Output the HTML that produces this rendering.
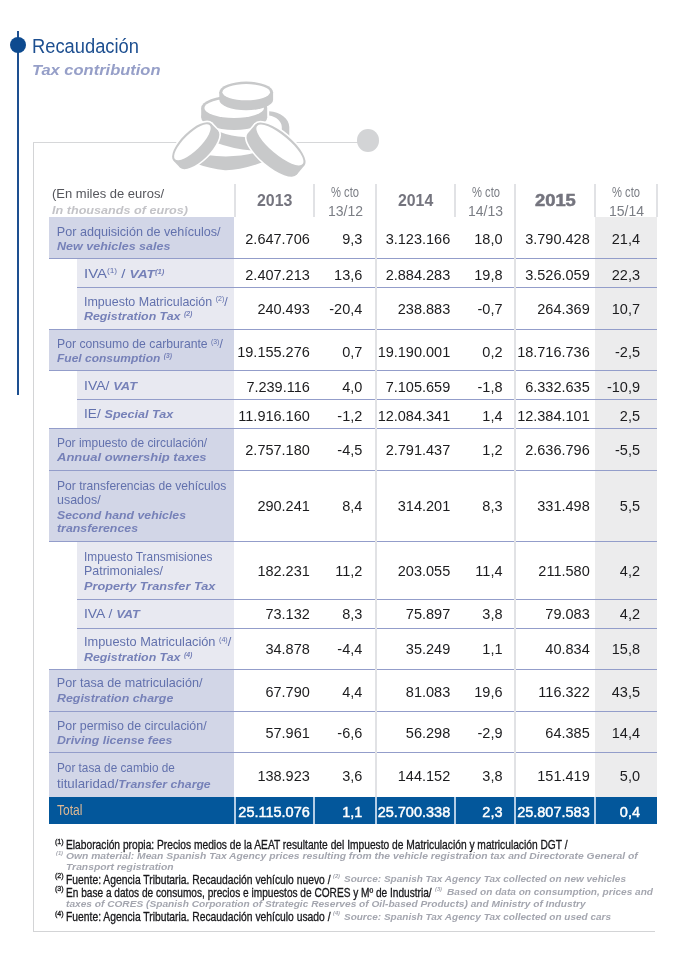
<!DOCTYPE html><html lang="es"><head><meta charset="utf-8"><title>Recaudación</title><style>
html,body{margin:0;padding:0;background:#fff;}
body{width:679px;height:956px;position:relative;overflow:hidden;font-family:"Liberation Sans",sans-serif;}
.r{position:absolute;}
.t{position:absolute;white-space:nowrap;line-height:1;transform-origin:0 50%;}
.t.ra{transform-origin:100% 50%;}
sup{font-size:56%;vertical-align:baseline;position:relative;top:-0.6em;line-height:0;}
.fs sup,.fse sup{font-size:58%;top:-0.78em;}
em{font-style:italic;font-weight:bold;}
.lab{font-size:12.6px;color:#6271ad;}
.lab.e, .lab em{font-style:italic;font-weight:bold;color:#7681b8;font-size:11.6px;}
.labt{font-size:14px;color:#deb893;}
.num{font-size:14.5px;color:#1c1c1e;}
.num.tot{color:#fff;font-size:14.5px;-webkit-text-stroke:0.45px #fff;}
.h1{font-size:12.8px;color:#55565c;}
.h2{font-size:11.6px;color:#c3c3c7;font-style:italic;font-weight:bold;}
.yr{font-size:16px;font-weight:bold;color:#74747e;}
.yr.xb{-webkit-text-stroke:0.5px #74747e;}
.pc{font-size:14px;color:#7b7e85;}
.pd{font-size:15px;}
.title{font-size:20px;color:#1d4f90;}
.subtitle{font-size:14.5px;font-style:italic;font-weight:bold;color:#969fc8;}
.fn,.fs{font-size:12.2px;color:#17171a;-webkit-text-stroke:0.3px #17171a;}
.fe,.fse{font-size:9.8px;color:#a4a6af;font-style:italic;font-weight:bold;}
</style></head><body>
<div class="r" style="left:33px;top:141.8px;width:1px;height:790.3px;background:#d3d4d6"></div>
<div class="r" style="left:33px;top:141.8px;width:144.2px;height:1px;background:#d6d7d9"></div><div class="r" style="left:295px;top:141.8px;width:63px;height:1px;background:#d6d7d9"></div>
<div class="r" style="left:33px;top:931.1px;width:621.5px;height:1px;background:#d3d4d6"></div>
<div class="r" style="left:356.9px;top:129.3px;width:22px;height:22.4px;border-radius:50%;background:#d3d4d6"></div>
<div class="r" style="left:17.4px;top:31.2px;width:2px;height:364.3px;background:#1d4f90"></div>
<div class="r" style="left:10px;top:36.5px;width:16px;height:16px;border-radius:50%;background:#0d4a8f"></div>
<svg class="r" style="left:160px;top:70px" width="160" height="120" viewBox="160 70 160 120">
<path d="M269.2,111.2 C 280,112 289.3,118.5 289.3,127 L289.3,137 L281.8,137 L281.8,127 C281.8,121.5 276,116.6 269.2,115.6 Z" fill="#c8c9ca"/>
<path d="M 219.5,131.8 Q 233,137.5 247,136.9 L 252,150.4 Q 233,149 215.5,142.4 Z" fill="#c8c9ca"/>
<path d="M 207,155.0 Q 232,158.8 256,152.6 L 262.5,162.3 Q 240,170.5 225,170.2 Q 210,169 196,163.6 Z" fill="#c8c9ca"/>
<g fill="#c8c9ca"><ellipse cx="234.20" cy="108.10" rx="33.00" ry="12.50"/><ellipse cx="234.20" cy="117.40" rx="33.00" ry="12.50"/><rect x="201.20" y="108.10" width="66.00" height="9.30"/></g><ellipse cx="234.20" cy="108.10" rx="29.80" ry="9.80" fill="#fff"/>
<g fill="#c8c9ca"><ellipse cx="246.20" cy="92.20" rx="26.90" ry="10.60"/><ellipse cx="246.20" cy="99.70" rx="26.90" ry="10.60"/><rect x="219.30" y="92.20" width="53.80" height="7.50"/></g><ellipse cx="246.20" cy="92.20" rx="23.80" ry="8.10" fill="#fff"/>
<g><g fill="#fff" stroke="#fff" stroke-width="3.2" stroke-linejoin="round"><ellipse cx="192.40" cy="142.30" rx="26.50" ry="10.60" transform="rotate(-44.50 192.40 142.30)"/><ellipse cx="199.06" cy="149.08" rx="26.50" ry="10.60" transform="rotate(-44.50 199.06 149.08)"/><polygon points="211.30,123.73 217.96,130.50 180.16,167.65 173.50,160.87"/></g><g fill="#c8c9ca"><ellipse cx="192.40" cy="142.30" rx="26.50" ry="10.60" transform="rotate(-44.50 192.40 142.30)"/><ellipse cx="199.06" cy="149.08" rx="26.50" ry="10.60" transform="rotate(-44.50 199.06 149.08)"/><polygon points="211.30,123.73 217.96,130.50 180.16,167.65 173.50,160.87"/></g><ellipse cx="192.40" cy="142.30" rx="24.30" ry="8.40" transform="rotate(-44.50 192.40 142.30)" fill="#fff"/></g>
<g><g fill="#fff" stroke="#fff" stroke-width="3.2" stroke-linejoin="round"><ellipse cx="279.90" cy="145.00" rx="32.00" ry="11.80" transform="rotate(40.00 279.90 145.00)"/><ellipse cx="272.19" cy="154.19" rx="32.00" ry="11.80" transform="rotate(40.00 272.19 154.19)"/><polygon points="304.41,165.57 296.70,174.76 247.67,133.62 255.39,124.43"/></g><g fill="#c8c9ca"><ellipse cx="279.90" cy="145.00" rx="32.00" ry="11.80" transform="rotate(40.00 279.90 145.00)"/><ellipse cx="272.19" cy="154.19" rx="32.00" ry="11.80" transform="rotate(40.00 272.19 154.19)"/><polygon points="304.41,165.57 296.70,174.76 247.67,133.62 255.39,124.43"/></g><ellipse cx="279.90" cy="145.00" rx="29.70" ry="9.50" transform="rotate(40.00 279.90 145.00)" fill="#fff"/></g>
</svg>
<div class="r" style="left:595.00px;top:217.00px;width:61.60px;height:579.60px;background:#ececed;"></div>
<div class="r" style="left:49.20px;top:217.00px;width:185.30px;height:41.50px;background:#d2d6e7;"></div>
<div class="r" style="left:76.80px;top:258.50px;width:157.70px;height:28.80px;background:#e8e9f1;"></div>
<div class="r" style="left:76.80px;top:287.30px;width:157.70px;height:42.40px;background:#e8e9f1;"></div>
<div class="r" style="left:49.20px;top:329.70px;width:185.30px;height:41.20px;background:#d2d6e7;"></div>
<div class="r" style="left:76.80px;top:370.90px;width:157.70px;height:28.90px;background:#e8e9f1;"></div>
<div class="r" style="left:76.80px;top:399.80px;width:157.70px;height:28.80px;background:#e8e9f1;"></div>
<div class="r" style="left:49.20px;top:428.60px;width:185.30px;height:42.20px;background:#d2d6e7;"></div>
<div class="r" style="left:49.20px;top:470.80px;width:185.30px;height:71.00px;background:#d2d6e7;"></div>
<div class="r" style="left:76.80px;top:541.80px;width:157.70px;height:58.10px;background:#e8e9f1;"></div>
<div class="r" style="left:76.80px;top:599.90px;width:157.70px;height:28.60px;background:#e8e9f1;"></div>
<div class="r" style="left:76.80px;top:628.50px;width:157.70px;height:41.00px;background:#e8e9f1;"></div>
<div class="r" style="left:49.20px;top:669.50px;width:185.30px;height:42.00px;background:#d2d6e7;"></div>
<div class="r" style="left:49.20px;top:711.50px;width:185.30px;height:41.10px;background:#d2d6e7;"></div>
<div class="r" style="left:49.20px;top:752.60px;width:185.30px;height:44.00px;background:#d2d6e7;"></div>
<div class="r" style="left:49.20px;top:796.60px;width:607.40px;height:27.90px;background:#03579b;"></div>
<div class="r" style="left:49.20px;top:258.00px;width:607.40px;height:1.35px;background:#939dca;"></div>
<div class="r" style="left:76.80px;top:287.00px;width:579.80px;height:1.35px;background:#939dca;"></div>
<div class="r" style="left:49.20px;top:329.00px;width:607.40px;height:1.35px;background:#939dca;"></div>
<div class="r" style="left:49.20px;top:370.00px;width:607.40px;height:1.35px;background:#939dca;"></div>
<div class="r" style="left:76.80px;top:399.00px;width:579.80px;height:1.35px;background:#939dca;"></div>
<div class="r" style="left:49.20px;top:428.00px;width:607.40px;height:1.35px;background:#939dca;"></div>
<div class="r" style="left:49.20px;top:470.00px;width:607.40px;height:1.35px;background:#939dca;"></div>
<div class="r" style="left:49.20px;top:541.00px;width:607.40px;height:1.35px;background:#939dca;"></div>
<div class="r" style="left:76.80px;top:599.00px;width:579.80px;height:1.35px;background:#939dca;"></div>
<div class="r" style="left:76.80px;top:628.00px;width:579.80px;height:1.35px;background:#939dca;"></div>
<div class="r" style="left:49.20px;top:669.00px;width:607.40px;height:1.35px;background:#939dca;"></div>
<div class="r" style="left:49.20px;top:711.00px;width:607.40px;height:1.35px;background:#939dca;"></div>
<div class="r" style="left:49.20px;top:752.00px;width:607.40px;height:1.35px;background:#939dca;"></div>
<div class="r" style="left:234.00px;top:184.00px;width:2.00px;height:33.00px;background:#e1e2e5;"></div>
<div class="r" style="left:313.00px;top:184.00px;width:2.00px;height:33.00px;background:#e1e2e5;"></div>
<div class="r" style="left:374.70px;top:184.00px;width:2.00px;height:612.60px;background:#e1e2e5;"></div>
<div class="r" style="left:453.70px;top:184.00px;width:2.00px;height:33.00px;background:#e1e2e5;"></div>
<div class="r" style="left:514.20px;top:184.00px;width:2.00px;height:612.60px;background:#e1e2e5;"></div>
<div class="r" style="left:594.00px;top:184.00px;width:2.00px;height:33.00px;background:#e1e2e5;"></div>
<div class="r" style="left:655.70px;top:184.00px;width:2.00px;height:33.00px;background:#e1e2e5;"></div>
<div class="r" style="left:233.90px;top:796.60px;width:2.20px;height:27.90px;background:#b3cde6;"></div>
<div class="r" style="left:312.90px;top:796.60px;width:2.20px;height:27.90px;background:#b3cde6;"></div>
<div class="r" style="left:374.60px;top:796.60px;width:2.20px;height:27.90px;background:#b3cde6;"></div>
<div class="r" style="left:453.60px;top:796.60px;width:2.20px;height:27.90px;background:#b3cde6;"></div>
<div class="r" style="left:514.10px;top:796.60px;width:2.20px;height:27.90px;background:#b3cde6;"></div>
<div class="r" style="left:593.90px;top:796.60px;width:2.20px;height:27.90px;background:#b3cde6;"></div>
<div class="t lab n" style="left:56.80px;top:231.50px;transform:translateY(-50%);">Por adquisición de vehículos/</div>
<div class="t lab e" style="left:56.80px;top:245.50px;transform:translateY(-50%) scaleX(1.0794);">New vehicles sales</div>
<div class="t num ra" style="right:369.20px;top:239.30px;transform:translateY(-50%);">2.647.706</div>
<div class="t num ra" style="right:316.70px;top:239.30px;transform:translateY(-50%);">9,3</div>
<div class="t num ra" style="right:228.80px;top:239.30px;transform:translateY(-50%);">3.123.166</div>
<div class="t num ra" style="right:176.50px;top:239.30px;transform:translateY(-50%);">18,0</div>
<div class="t num ra" style="right:89.30px;top:239.30px;transform:translateY(-50%);">3.790.428</div>
<div class="t num ra" style="right:39.00px;top:239.30px;transform:translateY(-50%);">21,4</div>
<div class="t lab n" style="left:83.90px;top:273.50px;transform:translateY(-50%) scaleX(1.1840);">IVA<sup>(1)</sup> / <em>VAT<sup>(1)</sup></em></div>
<div class="t num ra" style="right:369.20px;top:274.50px;transform:translateY(-50%);">2.407.213</div>
<div class="t num ra" style="right:316.70px;top:274.50px;transform:translateY(-50%);">13,6</div>
<div class="t num ra" style="right:228.80px;top:274.50px;transform:translateY(-50%);">2.884.283</div>
<div class="t num ra" style="right:176.50px;top:274.50px;transform:translateY(-50%);">19,8</div>
<div class="t num ra" style="right:89.30px;top:274.50px;transform:translateY(-50%);">3.526.059</div>
<div class="t num ra" style="right:39.00px;top:274.50px;transform:translateY(-50%);">22,3</div>
<div class="t lab n" style="left:83.90px;top:301.50px;transform:translateY(-50%) scaleX(0.9902);">Impuesto Matriculación <sup>(2)</sup>/</div>
<div class="t lab e" style="left:83.90px;top:316.00px;transform:translateY(-50%) scaleX(1.0672);">Registration Tax <sup>(2)</sup></div>
<div class="t num ra" style="right:369.20px;top:309.30px;transform:translateY(-50%);">240.493</div>
<div class="t num ra" style="right:316.70px;top:309.30px;transform:translateY(-50%);">-20,4</div>
<div class="t num ra" style="right:228.80px;top:309.30px;transform:translateY(-50%);">238.883</div>
<div class="t num ra" style="right:176.50px;top:309.30px;transform:translateY(-50%);">-0,7</div>
<div class="t num ra" style="right:89.30px;top:309.30px;transform:translateY(-50%);">264.369</div>
<div class="t num ra" style="right:39.00px;top:309.30px;transform:translateY(-50%);">10,7</div>
<div class="t lab n" style="left:56.80px;top:344.00px;transform:translateY(-50%) scaleX(0.9693);">Por consumo de carburante <sup>(3)</sup>/</div>
<div class="t lab e" style="left:56.80px;top:358.00px;transform:translateY(-50%) scaleX(1.0351);">Fuel consumption <sup>(3)</sup></div>
<div class="t num ra" style="right:369.20px;top:351.50px;transform:translateY(-50%);">19.155.276</div>
<div class="t num ra" style="right:316.70px;top:351.50px;transform:translateY(-50%);">0,7</div>
<div class="t num ra" style="right:228.80px;top:351.50px;transform:translateY(-50%);">19.190.001</div>
<div class="t num ra" style="right:176.50px;top:351.50px;transform:translateY(-50%);">0,2</div>
<div class="t num ra" style="right:89.30px;top:351.50px;transform:translateY(-50%);">18.716.736</div>
<div class="t num ra" style="right:39.00px;top:351.50px;transform:translateY(-50%);">-2,5</div>
<div class="t lab n" style="left:83.90px;top:386.00px;transform:translateY(-50%) scaleX(1.1078);">IVA/ <em>VAT</em></div>
<div class="t num ra" style="right:369.20px;top:386.80px;transform:translateY(-50%);">7.239.116</div>
<div class="t num ra" style="right:316.70px;top:386.80px;transform:translateY(-50%);">4,0</div>
<div class="t num ra" style="right:228.80px;top:386.80px;transform:translateY(-50%);">7.105.659</div>
<div class="t num ra" style="right:176.50px;top:386.80px;transform:translateY(-50%);">-1,8</div>
<div class="t num ra" style="right:89.30px;top:386.80px;transform:translateY(-50%);">6.332.635</div>
<div class="t num ra" style="right:39.00px;top:386.80px;transform:translateY(-50%);">-10,9</div>
<div class="t lab n" style="left:83.90px;top:414.00px;transform:translateY(-50%) scaleX(1.0841);">IE/ <em>Special Tax</em></div>
<div class="t num ra" style="right:369.20px;top:415.50px;transform:translateY(-50%);">11.916.160</div>
<div class="t num ra" style="right:316.70px;top:415.50px;transform:translateY(-50%);">-1,2</div>
<div class="t num ra" style="right:228.80px;top:415.50px;transform:translateY(-50%);">12.084.341</div>
<div class="t num ra" style="right:176.50px;top:415.50px;transform:translateY(-50%);">1,4</div>
<div class="t num ra" style="right:89.30px;top:415.50px;transform:translateY(-50%);">12.384.101</div>
<div class="t num ra" style="right:39.00px;top:415.50px;transform:translateY(-50%);">2,5</div>
<div class="t lab n" style="left:56.80px;top:442.80px;transform:translateY(-50%) scaleX(0.9494);">Por impuesto de circulación/</div>
<div class="t lab e" style="left:56.80px;top:456.70px;transform:translateY(-50%) scaleX(1.1218);">Annual ownership taxes</div>
<div class="t num ra" style="right:369.20px;top:450.40px;transform:translateY(-50%);">2.757.180</div>
<div class="t num ra" style="right:316.70px;top:450.40px;transform:translateY(-50%);">-4,5</div>
<div class="t num ra" style="right:228.80px;top:450.40px;transform:translateY(-50%);">2.791.437</div>
<div class="t num ra" style="right:176.50px;top:450.40px;transform:translateY(-50%);">1,2</div>
<div class="t num ra" style="right:89.30px;top:450.40px;transform:translateY(-50%);">2.636.796</div>
<div class="t num ra" style="right:39.00px;top:450.40px;transform:translateY(-50%);">-5,5</div>
<div class="t lab n" style="left:56.80px;top:485.60px;transform:translateY(-50%) scaleX(0.9597);">Por transferencias de vehículos</div>
<div class="t lab n" style="left:56.80px;top:500.30px;transform:translateY(-50%) scaleX(0.9885);">usados/</div>
<div class="t lab e" style="left:56.80px;top:514.50px;transform:translateY(-50%) scaleX(1.0593);">Second hand vehicles</div>
<div class="t lab e" style="left:56.80px;top:528.30px;transform:translateY(-50%) scaleX(1.0651);">transferences</div>
<div class="t num ra" style="right:369.20px;top:506.10px;transform:translateY(-50%);">290.241</div>
<div class="t num ra" style="right:316.70px;top:506.10px;transform:translateY(-50%);">8,4</div>
<div class="t num ra" style="right:228.80px;top:506.10px;transform:translateY(-50%);">314.201</div>
<div class="t num ra" style="right:176.50px;top:506.10px;transform:translateY(-50%);">8,3</div>
<div class="t num ra" style="right:89.30px;top:506.10px;transform:translateY(-50%);">331.498</div>
<div class="t num ra" style="right:39.00px;top:506.10px;transform:translateY(-50%);">5,5</div>
<div class="t lab n" style="left:83.90px;top:556.90px;transform:translateY(-50%) scaleX(0.9407);">Impuesto Transmisiones</div>
<div class="t lab n" style="left:83.90px;top:571.00px;transform:translateY(-50%) scaleX(0.9888);">Patrimoniales/</div>
<div class="t lab e" style="left:83.90px;top:585.80px;transform:translateY(-50%) scaleX(1.0955);">Property Transfer Tax</div>
<div class="t num ra" style="right:369.20px;top:571.10px;transform:translateY(-50%);">182.231</div>
<div class="t num ra" style="right:316.70px;top:571.10px;transform:translateY(-50%);">11,2</div>
<div class="t num ra" style="right:228.80px;top:571.10px;transform:translateY(-50%);">203.055</div>
<div class="t num ra" style="right:176.50px;top:571.10px;transform:translateY(-50%);">11,4</div>
<div class="t num ra" style="right:89.30px;top:571.10px;transform:translateY(-50%);">211.580</div>
<div class="t num ra" style="right:39.00px;top:571.10px;transform:translateY(-50%);">4,2</div>
<div class="t lab n" style="left:83.90px;top:614.10px;transform:translateY(-50%) scaleX(1.1039);">IVA / <em>VAT</em></div>
<div class="t num ra" style="right:369.20px;top:613.70px;transform:translateY(-50%);">73.132</div>
<div class="t num ra" style="right:316.70px;top:613.70px;transform:translateY(-50%);">8,3</div>
<div class="t num ra" style="right:228.80px;top:613.70px;transform:translateY(-50%);">75.897</div>
<div class="t num ra" style="right:176.50px;top:613.70px;transform:translateY(-50%);">3,8</div>
<div class="t num ra" style="right:89.30px;top:613.70px;transform:translateY(-50%);">79.083</div>
<div class="t num ra" style="right:39.00px;top:613.70px;transform:translateY(-50%);">4,2</div>
<div class="t lab n" style="left:83.90px;top:642.10px;transform:translateY(-50%) scaleX(1.0150);">Impuesto Matriculación <sup>(4)</sup>/</div>
<div class="t lab e" style="left:83.90px;top:656.90px;transform:translateY(-50%) scaleX(1.0672);">Registration Tax <sup>(4)</sup></div>
<div class="t num ra" style="right:369.20px;top:648.70px;transform:translateY(-50%);">34.878</div>
<div class="t num ra" style="right:316.70px;top:648.70px;transform:translateY(-50%);">-4,4</div>
<div class="t num ra" style="right:228.80px;top:648.70px;transform:translateY(-50%);">35.249</div>
<div class="t num ra" style="right:176.50px;top:648.70px;transform:translateY(-50%);">1,1</div>
<div class="t num ra" style="right:89.30px;top:648.70px;transform:translateY(-50%);">40.834</div>
<div class="t num ra" style="right:39.00px;top:648.70px;transform:translateY(-50%);">15,8</div>
<div class="t lab n" style="left:56.80px;top:683.40px;transform:translateY(-50%);">Por tasa de matriculación/</div>
<div class="t lab e" style="left:56.80px;top:698.10px;transform:translateY(-50%) scaleX(1.0680);">Registration charge</div>
<div class="t num ra" style="right:369.20px;top:691.50px;transform:translateY(-50%);">67.790</div>
<div class="t num ra" style="right:316.70px;top:691.50px;transform:translateY(-50%);">4,4</div>
<div class="t num ra" style="right:228.80px;top:691.50px;transform:translateY(-50%);">81.083</div>
<div class="t num ra" style="right:176.50px;top:691.50px;transform:translateY(-50%);">19,6</div>
<div class="t num ra" style="right:89.30px;top:691.50px;transform:translateY(-50%);">116.322</div>
<div class="t num ra" style="right:39.00px;top:691.50px;transform:translateY(-50%);">43,5</div>
<div class="t lab n" style="left:56.80px;top:726.00px;transform:translateY(-50%) scaleX(0.9849);">Por permiso de circulación/</div>
<div class="t lab e" style="left:56.80px;top:740.40px;transform:translateY(-50%) scaleX(1.0596);">Driving license fees</div>
<div class="t num ra" style="right:369.20px;top:733.20px;transform:translateY(-50%);">57.961</div>
<div class="t num ra" style="right:316.70px;top:733.20px;transform:translateY(-50%);">-6,6</div>
<div class="t num ra" style="right:228.80px;top:733.20px;transform:translateY(-50%);">56.298</div>
<div class="t num ra" style="right:176.50px;top:733.20px;transform:translateY(-50%);">-2,9</div>
<div class="t num ra" style="right:89.30px;top:733.20px;transform:translateY(-50%);">64.385</div>
<div class="t num ra" style="right:39.00px;top:733.20px;transform:translateY(-50%);">14,4</div>
<div class="t lab n" style="left:56.80px;top:767.70px;transform:translateY(-50%) scaleX(0.9348);">Por tasa de cambio de</div>
<div class="t lab n" style="left:56.80px;top:784.00px;transform:translateY(-50%) scaleX(1.0560);">titularidad/<em>Transfer charge</em></div>
<div class="t num ra" style="right:369.20px;top:775.80px;transform:translateY(-50%);">138.923</div>
<div class="t num ra" style="right:316.70px;top:775.80px;transform:translateY(-50%);">3,6</div>
<div class="t num ra" style="right:228.80px;top:775.80px;transform:translateY(-50%);">144.152</div>
<div class="t num ra" style="right:176.50px;top:775.80px;transform:translateY(-50%);">3,8</div>
<div class="t num ra" style="right:89.30px;top:775.80px;transform:translateY(-50%);">151.419</div>
<div class="t num ra" style="right:39.00px;top:775.80px;transform:translateY(-50%);">5,0</div>
<div class="t labt n" style="left:56.80px;top:810.20px;transform:translateY(-50%) scaleX(0.8587);">Total</div>
<div class="t num tot ra" style="right:369.20px;top:812.30px;transform:translateY(-50%);">25.115.076</div>
<div class="t num tot ra" style="right:316.70px;top:812.30px;transform:translateY(-50%);">1,1</div>
<div class="t num tot ra" style="right:228.80px;top:812.30px;transform:translateY(-50%);">25.700.338</div>
<div class="t num tot ra" style="right:176.50px;top:812.30px;transform:translateY(-50%);">2,3</div>
<div class="t num tot ra" style="right:89.30px;top:812.30px;transform:translateY(-50%);">25.807.583</div>
<div class="t num tot ra" style="right:39.00px;top:812.30px;transform:translateY(-50%);">0,4</div>
<div class="t h1" style="left:51.50px;top:194.00px;transform:translateY(-50%) scaleX(1.0159);">(En miles de euros/</div>
<div class="t h2" style="left:51.50px;top:210.00px;transform:translateY(-50%) scaleX(1.0883);">In thousands of euros)</div>
<div class="t yr" style="left:257.40px;top:201.20px;transform:translateY(-50%) scaleX(0.9946);">2013</div>
<div class="t yr" style="left:397.60px;top:201.20px;transform:translateY(-50%) scaleX(0.9889);">2014</div>
<div class="t yr xb" style="left:535.20px;top:201.20px;transform:translateY(-50%) scaleX(1.1463);">2015</div>
<div class="t pc" style="left:331.00px;top:192.00px;transform:translateY(-50%) scaleX(0.7996);">% cto</div>
<div class="t pc pd" style="left:327.50px;top:209.80px;transform:translateY(-50%) scaleX(0.9322);">13/12</div>
<div class="t pc" style="left:471.50px;top:192.00px;transform:translateY(-50%) scaleX(0.7996);">% cto</div>
<div class="t pc pd" style="left:468.00px;top:209.80px;transform:translateY(-50%) scaleX(0.9322);">14/13</div>
<div class="t pc" style="left:612.00px;top:192.00px;transform:translateY(-50%) scaleX(0.7996);">% cto</div>
<div class="t pc pd" style="left:608.50px;top:209.80px;transform:translateY(-50%) scaleX(0.9322);">15/14</div>
<div class="t title" style="left:32.00px;top:45.60px;transform:translateY(-50%) scaleX(0.9165);">Recaudación</div>
<div class="t subtitle" style="left:32.00px;top:70.00px;transform:translateY(-50%) scaleX(1.1367);">Tax contribution</div>
<div class="t fs" style="left:55.00px;top:845.20px;transform:translateY(-50%);"><sup>(1)</sup></div>
<div class="t fn" style="left:66.40px;top:845.20px;transform:translateY(-50%) scaleX(0.8395);">Elaboración propia: Precios medios de la AEAT resultante del Impuesto de Matriculación y matriculación DGT /</div>
<div class="t fse" style="left:56.00px;top:856.30px;transform:translateY(-50%);"><sup>(1)</sup></div>
<div class="t fe" style="left:66.40px;top:856.30px;transform:translateY(-50%) scaleX(1.0524);">Own material: Mean Spanish Tax Agency prices resulting from the vehicle registration tax and Directorate General of</div>
<div class="t fe" style="left:66.40px;top:867.00px;transform:translateY(-50%) scaleX(1.0531);">Transport registration</div>
<div class="t fs" style="left:55.00px;top:879.90px;transform:translateY(-50%);"><sup>(2)</sup></div>
<div class="t fn" style="left:66.40px;top:879.90px;transform:translateY(-50%) scaleX(0.8471);">Fuente: Agencia Tributaria. Recaudación vehículo nuevo /</div>
<div class="t fse" style="left:333.00px;top:879.30px;transform:translateY(-50%);"><sup>(2)</sup></div>
<div class="t fe" style="left:344.00px;top:879.30px;transform:translateY(-50%) scaleX(1.0195);">Source: Spanish Tax Agency Tax collected on new vehicles</div>
<div class="t fs" style="left:55.00px;top:892.60px;transform:translateY(-50%);"><sup>(3)</sup></div>
<div class="t fn" style="left:66.40px;top:892.60px;transform:translateY(-50%) scaleX(0.8296);">En base a datos de consumos, precios e impuestos de CORES y Mº de Industria/</div>
<div class="t fse" style="left:435.00px;top:892.00px;transform:translateY(-50%);"><sup>(3)</sup></div>
<div class="t fe" style="left:447.00px;top:892.00px;transform:translateY(-50%) scaleX(1.0283);">Based on data on consumption, prices and</div>
<div class="t fe" style="left:66.40px;top:903.90px;transform:translateY(-50%) scaleX(1.0353);">taxes of CORES (Spanish Corporation of Strategic Reserves of Oil-based Products) and Ministry of Industry</div>
<div class="t fs" style="left:55.00px;top:917.40px;transform:translateY(-50%);"><sup>(4)</sup></div>
<div class="t fn" style="left:66.40px;top:917.40px;transform:translateY(-50%) scaleX(0.8471);">Fuente: Agencia Tributaria. Recaudación vehículo usado /</div>
<div class="t fse" style="left:333.00px;top:916.80px;transform:translateY(-50%);"><sup>(4)</sup></div>
<div class="t fe" style="left:344.00px;top:916.80px;transform:translateY(-50%) scaleX(1.0195);">Source: Spanish Tax Agency Tax collected on used cars</div>
</body></html>
